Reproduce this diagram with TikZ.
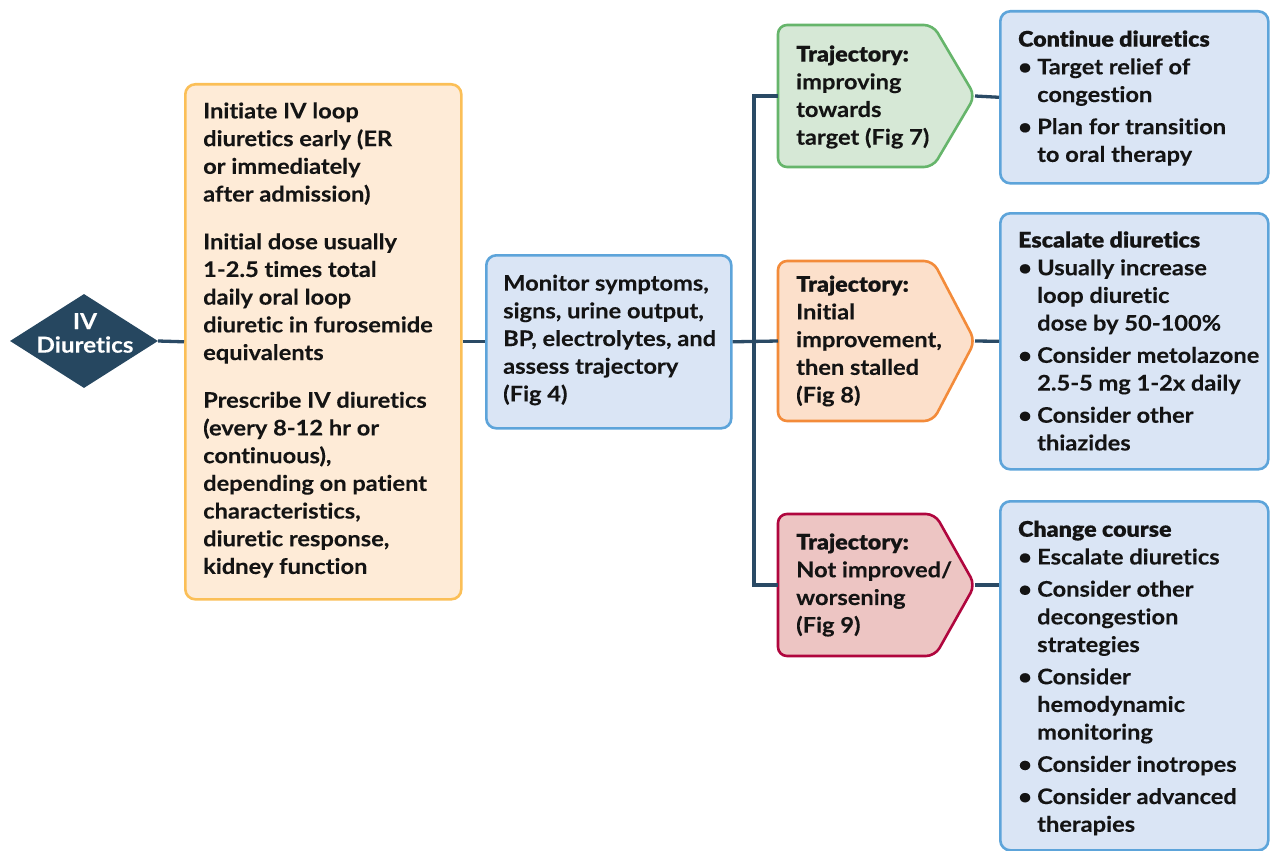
\documentclass[tikz,border=0pt]{standalone}
\usepackage{fontspec}
\usetikzlibrary{shapes.geometric}
\newfontfamily\bodyf{Lato Bold}[FakeStretch=1.1, FakeBold=0.15, Ligatures={NoCommon}]
\newfontfamily\headf{Lato Black}[FakeStretch=1.08, FakeBold=0.3, Ligatures={NoCommon}]
\definecolor{navy}{HTML}{2A4A65}
\definecolor{dia}{HTML}{264760}
\definecolor{ofill}{HTML}{FEEBD7}
\definecolor{obord}{HTML}{FBBF57}
\definecolor{bfill}{HTML}{DAE5F5}
\definecolor{bbord}{HTML}{5DA4DA}
\definecolor{gfill}{HTML}{D6E8D6}
\definecolor{gbord}{HTML}{66B56B}
\definecolor{tfill}{HTML}{FCE0CB}
\definecolor{tbord}{HTML}{F38B3A}
\definecolor{rfill}{HTML}{EDC5C3}
\definecolor{rbord}{HTML}{B0063E}
\newcommand{\bul}{\makebox[19pt][l]{\textbullet}}
\newcommand{\ind}{\hspace*{19pt}}
\begin{document}
\begin{tikzpicture}[x=1pt,y=-1pt,
  conn/.style={line width=3.3pt, draw=navy},
  box/.style={line width=2.6pt, rounded corners=10pt, inner sep=0pt},
  txt/.style={inner sep=0pt, align=left, anchor=west, text=black!92,
    font=\bodyf\fontsize{21.5}{27.7}\selectfont},
  pent/.style={line width=2.6pt, rounded corners=9pt}]
\useasboundingbox (0,0) rectangle (1272,851);

% diamond
\node[diamond, fill=dia, minimum width=148pt, minimum height=94pt, inner sep=0pt] (iv) at (84,341) {};
\node[inner sep=0pt, align=center, text=white, font=\bodyf\fontsize{22}{23.5}\selectfont] (ivt) at (85,333) {IV\\Diuretics};

% orange box
\node[box, draw=obord, fill=ofill, minimum width=276pt, minimum height=515pt, anchor=north west] (init) at (184,83) {};
\node[txt] (initt) at (203,340) {Initiate IV loop\\diuretics early (ER\\or immediately\\after admission)\\[20pt]
Initial dose usually\\1-2.5 times total\\daily oral loop\\diuretic in furosemide\\equivalents\\[20pt]
Prescribe IV diuretics\\(every 8-12 hr or\\continuous),\\depending on patient\\characteristics,\\diuretic response,\\kidney function};

% monitor box
\node[box, draw=bbord, fill=bfill, minimum width=245pt, minimum height=173pt, anchor=north west] (mon) at (485,254) {};
\node[txt] (mont) at (503,340) {Monitor symptoms,\\signs, urine output,\\BP, electrolytes, and\\assess trajectory\\(Fig 4)};

% trajectory shapes
\path[pent, draw=gbord, fill=gfill] (778,25) -- (933,25) -- (975,96) -- (933,167) -- (778,167) -- cycle;
\path[pent, draw=tbord, fill=tfill] (778,261) -- (933,261) -- (975,341) -- (933,421) -- (778,421) -- cycle;
\path[pent, draw=rbord, fill=rfill] (778,514) -- (935,514) -- (975,585) -- (935,656) -- (778,656) -- cycle;
\coordinate (gL) at (778,96);   \coordinate (gR) at (975,96);
\coordinate (oL) at (778,341);  \coordinate (oR) at (975,341);
\coordinate (rL) at (778,585);  \coordinate (rR) at (975,585);
\node[txt] (gt) at (796,97) {{\headf Trajectory:}\\improving\\towards\\target (Fig 7)};
\node[txt] (ot) at (796,341) {{\headf Trajectory:}\\Initial\\improvement,\\then stalled\\(Fig 8)};
\node[txt] (rt) at (796,585) {{\headf Trajectory:}\\Not improved/\\worsening\\(Fig 9)};

% right boxes
\node[box, draw=bbord, fill=bfill, minimum width=268pt, minimum height=172pt, anchor=north west] (c1) at (999,10) {};
\node[box, draw=bbord, fill=bfill, minimum width=268pt, minimum height=256pt, anchor=north west] (c2) at (999,212) {};
\node[box, draw=bbord, fill=bfill, minimum width=268pt, minimum height=349pt, anchor=north west] (c3) at (999,500) {};
\node[txt] (c1t) at (1018,98) {{\headf Continue diuretics}\\\bul Target relief of\\\ind congestion\\[4.5pt]\bul Plan for transition\\\ind to oral therapy};
\node[txt] (c2t) at (1018,341) {{\headf Escalate diuretics}\\\bul Usually increase\\\ind loop diuretic\\\ind dose by 50-100\%\\[4.5pt]\bul Consider metolazone\\\ind 2.5-5 mg 1-2x daily\\[4.5pt]\bul Consider other\\\ind thiazides};
\node[txt] (c3t) at (1018,678) {{\headf Change course}\\\bul Escalate diuretics\\[4.5pt]\bul Consider other\\\ind decongestion\\\ind strategies\\[4.5pt]\bul Consider\\\ind hemodynamic\\\ind monitoring\\[4.5pt]\bul Consider inotropes\\[4.5pt]\bul Consider advanced\\\ind therapies};

% connectors
\coordinate (jn) at (754,341);
\draw[conn] (iv.east) -- (init.west);
\draw[conn] (init.east) -- (mon.west);
\draw[conn] (mon.east) -- (oL);
\draw[conn] (gL) -| (jn) |- (rL);
\draw[conn] (gR) -- (c1.west);
\draw[conn] (oR) -- (c2.west);
\draw[conn] (rR) -- (c3.west |- rR);
\end{tikzpicture}
\end{document}
